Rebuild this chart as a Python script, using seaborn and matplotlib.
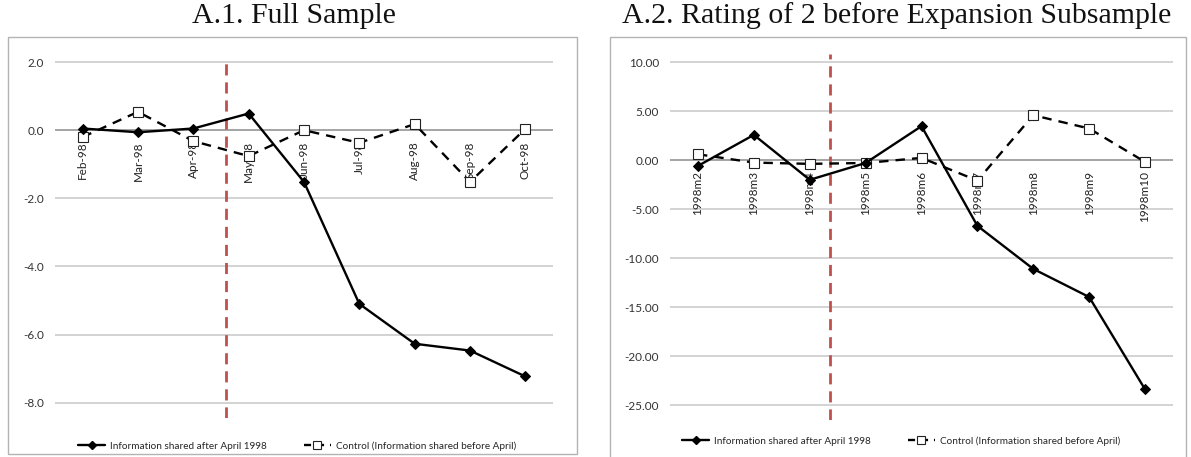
import matplotlib
matplotlib.use("Agg")
import matplotlib.pyplot as plt
import seaborn as sns
import pandas as pd
from matplotlib.patches import Rectangle
from matplotlib.lines import Line2D

# data
months_a = ['Feb-98', 'Mar-98', 'Apr-98', 'May-98', 'Jun-98', 'Jul-98', 'Aug-98', 'Sep-98', 'Oct-98']
shared_a = [0.05, -0.06, 0.05, 0.49, -1.52, -5.10, -6.27, -6.47, -7.23]
control_a = [-0.20, 0.54, -0.32, -0.76, 0.00, -0.37, 0.18, -1.52, 0.04]

months_b = ['1998m2', '1998m3', '1998m4', '1998m5', '1998m6', '1998m7', '1998m8', '1998m9', '1998m10']
shared_b = [-0.58, 2.59, -2.00, -0.28, 3.48, -6.70, -11.10, -13.97, -23.40]
control_b = [0.61, -0.24, -0.37, -0.28, 0.24, -2.08, 4.60, 3.24, -0.17]

lab_shared = 'Information shared after April 1998'
lab_control = 'Control (Information shared before April)'

sns.set_style('white')
plt.rcParams['font.family'] = ['Lato', 'DejaVu Sans']
plt.rcParams['axes.unicode_minus'] = False

W, H = 1191, 457
fig = plt.figure(figsize=(W / 100, H / 100), dpi=100)


def px(x0, y0, x1, y1):
    # pixel box -> figure fraction rect
    return [x0 / W, 1 - y1 / H, (x1 - x0) / W, (y1 - y0) / H]


def panel(rect, box, months, shared, control, ticks, fmt, ylim, vline, title, tx, leg_xy):
    ax = fig.add_axes(px(*rect))
    fig.patches.append(Rectangle((box[0] / W, 1 - box[3] / H), (box[2] - box[0]) / W,
                                 (box[3] - box[1]) / H, transform=fig.transFigure,
                                 fill=False, edgecolor='#b3b3b3', linewidth=1, zorder=0))
    df = pd.DataFrame({'month': months, 'shared': shared, 'control': control})
    for t in ticks:
        ax.axhline(t, color='#8c8c8c' if t == 0 else '#c8c8c8', lw=1.1, zorder=0)
    ax.axvline(vline, color='#c0504d', lw=2, dashes=(4, 2.5), zorder=1)
    sns.lineplot(data=df, x='month', y='control', ax=ax, color='black', lw=1.7,
                 dashes=False, marker='s', markersize=7, markerfacecolor='white',
                 markeredgecolor='#222222', markeredgewidth=0.8, sort=False, zorder=3)
    ax.lines[-1].set_dashes((4, 3))
    sns.lineplot(data=df, x='month', y='shared', ax=ax, color='black', lw=1.7,
                 marker='D', markersize=5.5, markeredgecolor='black', sort=False, zorder=4)
    ax.set_xlim(-0.5, len(months) - 0.5)
    ax.set_ylim(*ylim)
    ax.set_yticks(ticks)
    ax.set_yticklabels([fmt % t for t in ticks], fontsize=8.5, color='#333333')
    ax.tick_params(axis='y', length=0, pad=8)
    ax.spines['bottom'].set_position(('data', 0))
    for s in ax.spines.values():
        s.set_visible(False)
    ax.tick_params(axis='x', length=0, pad=8, labelsize=8.5, labelcolor='#222222')
    plt.setp(ax.get_xticklabels(), rotation=90)
    ax.set_xlabel('')
    ax.set_ylabel('')
    ax.set_facecolor('none')
    fig.text(tx / W, 1 - 16 / H, title, ha='center', va='center', fontsize=21.5,
             family='Liberation Serif', color='#111111')
    handles = [Line2D([], [], color='black', lw=1.7, marker='D', markersize=4),
               Line2D([], [], color='black', lw=1.7, dashes=(3, 2.5), marker='s', markersize=6,
                      markerfacecolor='white', markeredgecolor='#222222', markeredgewidth=0.8)]
    fig.legend(handles, [lab_shared, lab_control], loc='center',
               bbox_to_anchor=(leg_xy[0] / W, 1 - leg_xy[1] / H), ncol=2, frameon=False,
               fontsize=7.2, handlelength=2.7, columnspacing=3.7, handletextpad=0.5)
    return ax


panel((55, 58, 553, 418), (8, 37, 577, 454), months_a, shared_a, control_a,
      [2, 0, -2, -4, -6, -8], '%.1f', (-8.45, 2.12), 2.59,
      'A.1. Full Sample', 294, (297, 446))
panel((670, 54, 1173, 420), (610, 37, 1186, 470), months_b, shared_b, control_b,
      [10, 5, 0, -5, -10, -15, -20, -25], '%.2f', (-26.53, 10.85), 2.36,
      'A.2. Rating of 2 before Expansion Subsample', 897, (901, 441))

fig.savefig('out.png', dpi=100)
